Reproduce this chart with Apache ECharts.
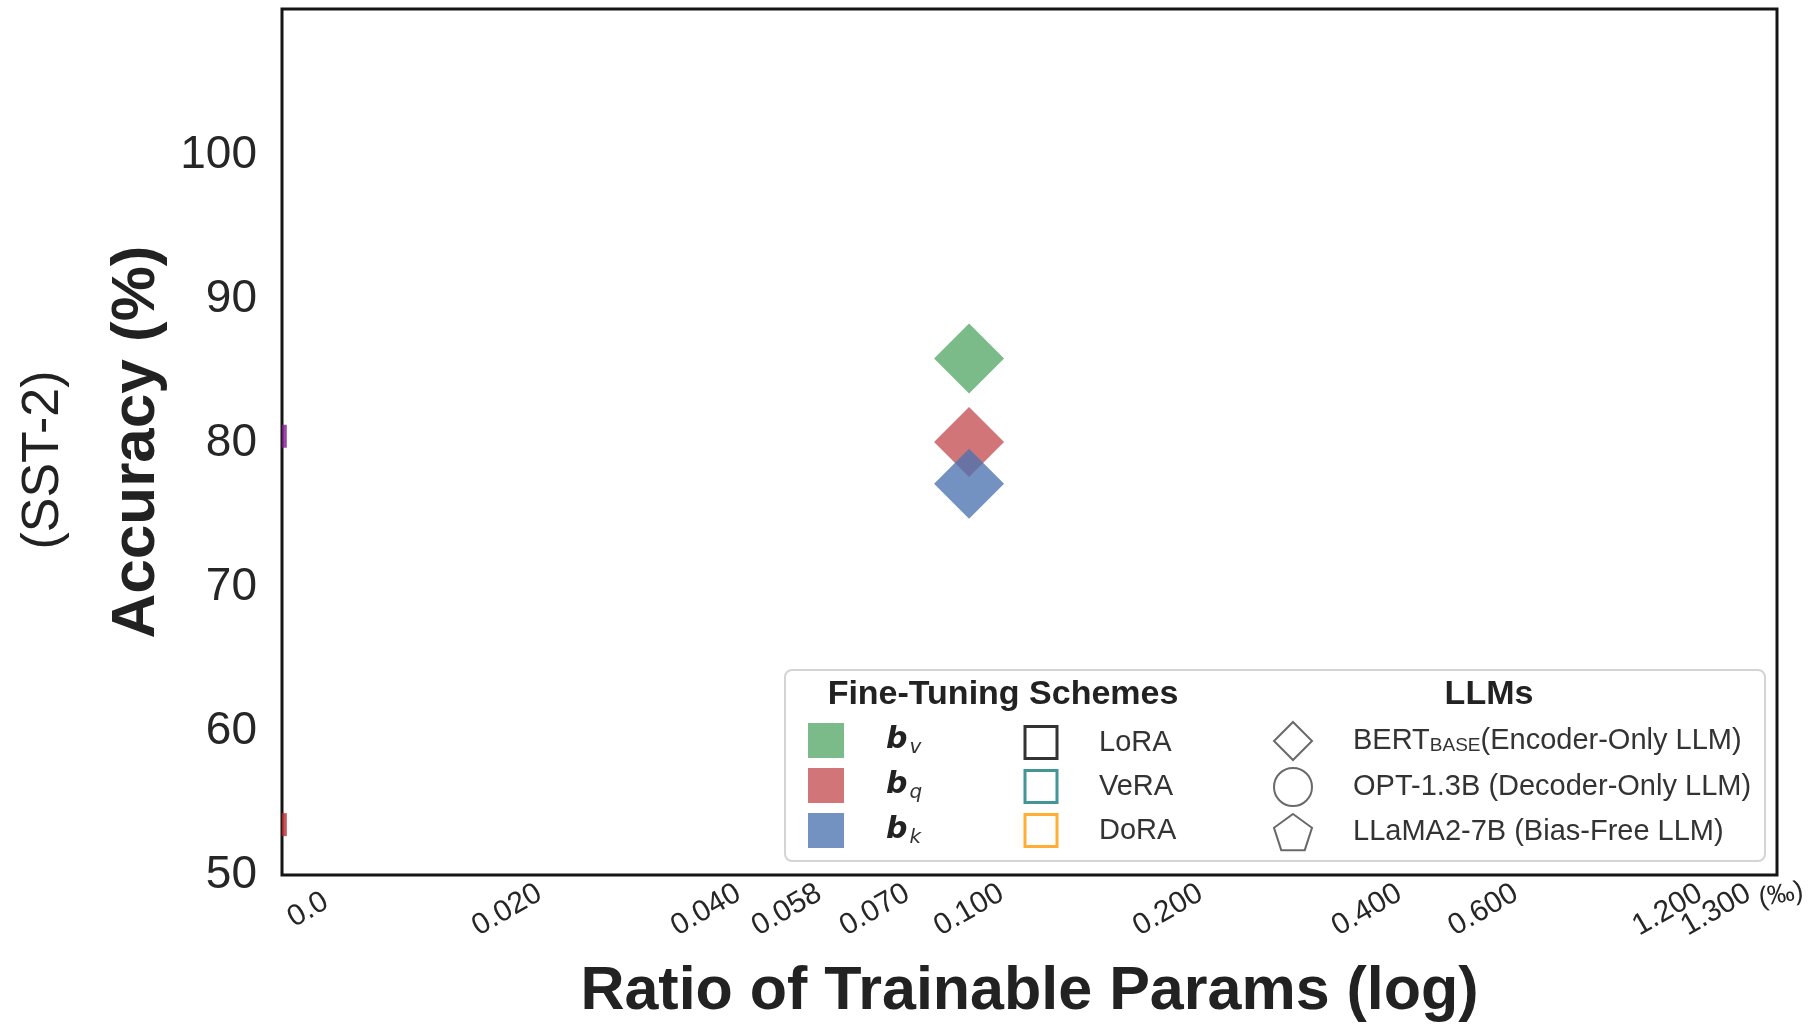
<!DOCTYPE html>
<html>
<head>
<meta charset="utf-8">
<script src="https://cdn.jsdelivr.net/npm/echarts@6/dist/echarts.min.js"></script>
<style>
  html, body { margin: 0; padding: 0; background: #ffffff; }
  #chart { width: 1808px; height: 1024px; }
</style>
</head>
<body>
<div id="chart"></div>
<script>
// Bias-only fine-tuning on SST-2: accuracy vs. ratio of trainable parameters (‰, log scale)

// Fine-tuning schemes (BERT-base points)
const schemeNames = ['b_v', 'b_q', 'b_k'];
const schemeColors = ['#55A868', '#C44E52', '#4C72B0'];
const schemeRatio = [0.1, 0.1, 0.1];
const schemeAccuracy = [85.9, 80.1, 77.2];

// Adapter baselines (legend only)
const methodNames = ['LoRA', 'VeRA', 'DoRA'];
const methodColors = ['#000000', '#137c7a', '#ff9900'];

// Backbone models (legend only)
const modelNames = ['BERT', 'OPT-1.3B', 'LLaMA2-7B'];
const modelSub = ['BASE', '', ''];
const modelNotes = ['(Encoder-Only LLM)', ' (Decoder-Only LLM)', ' (Bias-Free LLM)'];

// X range (‰)
const xMin = 0.00913, xMax = 1.669;

// Points sitting on the left edge of the visible ratio range
const edgeRatio = [xMin, xMin];
const edgeAccuracy = [80.5, 53.5];
const edgeColors = ['#7d1b8c', '#b8292e'];

// X ticks
const xTickValues = [0.01, 0.02, 0.04, 0.053, 0.072, 0.1, 0.2, 0.4, 0.6, 1.14, 1.35];
const xTickLabels = ['0.0', '0.020', '0.040', '0.058', '0.070', '0.100', '0.200', '0.400', '0.600', '1.200', '1.300'];

// Y ticks
const yMin = 50, yMax = 110.2, yStep = 10, yLabelMax = 100;

const FONT = "'Liberation Sans', Arial, Helvetica, sans-serif";
const schemeOpacity = 0.78;
const pentagon = 'path://M0,-1L0.951,-0.309L0.588,0.809L-0.588,0.809L-0.951,-0.309Z';
const modelIcons = ['diamond', 'circle', pentagon];

// Label text for a tick value; the trailing blank slot at xMax keeps the last real label visible
function tickText(v) {
  for (let i = 0; i < xTickValues.length; i++) {
    if (Math.abs(Math.log10(v) - Math.log10(xTickValues[i])) < 1e-4) return xTickLabels[i];
  }
  return '';
}

const series = [];
schemeNames.forEach((n, i) => {
  series.push({
    type: 'scatter', name: n,
    data: [[schemeRatio[i], schemeAccuracy[i]]],
    symbol: 'diamond', symbolSize: 70,
    itemStyle: { color: schemeColors[i], opacity: schemeOpacity },
    emphasis: { disabled: true }
  });
});
methodNames.forEach((n, i) => {
  series.push({
    type: 'scatter', name: n, data: [], symbol: 'rect',
    itemStyle: { color: 'rgba(0,0,0,0)', borderColor: methodColors[i], borderWidth: 3 }
  });
});
modelNames.forEach((n, i) => {
  series.push({
    type: 'scatter', name: n, data: [], symbol: modelIcons[i],
    itemStyle: { color: 'rgba(255,255,255,0)', borderColor: '#444', borderWidth: 2 }
  });
});
series.push({
  type: 'scatter', name: 'edge', z: 5,
  symbol: 'rect', symbolSize: [5, 23], symbolOffset: [2.3, 0],
  data: edgeRatio.map((x, i) => ({ value: [x, edgeAccuracy[i]], itemStyle: { color: edgeColors[i] } })),
  emphasis: { disabled: true }
});

const option = {
  backgroundColor: '#ffffff',
  animation: false,
  textStyle: { fontFamily: FONT },
  grid: {
    left: 282, top: 9, right: 31, bottom: 149,
    outerBoundsMode: 'none', containLabel: false,
    show: true, borderColor: '#151515', borderWidth: 3, backgroundColor: '#ffffff'
  },
  xAxis: {
    type: 'log', min: xMin, max: xMax,
    name: 'Ratio of Trainable Params (log)', nameLocation: 'middle', nameGap: 117,
    nameMoveOverlap: false,
    nameTextStyle: { fontSize: 61, fontWeight: 'bold', color: '#222', fontFamily: FONT,
                     align: 'center', verticalAlign: 'middle' },
    axisLine: { show: false }, axisTick: { show: false }, splitLine: { show: false },
    axisLabel: {
      customValues: xTickValues.concat([xMax]),
      formatter: v => tickText(v),
      showMinLabel: true, hideOverlap: false,
      rotate: 30, align: 'center', verticalAlign: 'middle', margin: 35,
      fontSize: 30, color: '#262626', fontFamily: FONT
    }
  },
  yAxis: {
    type: 'value', min: yMin, max: yMax, interval: yStep,
    name: 'Accuracy (%)', nameLocation: 'middle', nameGap: 114, nameRotate: 90,
    nameTextStyle: { fontSize: 62, fontWeight: 'bold', color: '#222', fontFamily: FONT },
    axisLine: { show: false }, axisTick: { show: false }, splitLine: { show: false },
    axisLabel: {
      formatter: v => (v <= yLabelMax ? String(v) : ''),
      fontSize: 46, color: '#262626', margin: 25, fontFamily: FONT
    }
  },
  legend: [
    {
      orient: 'vertical', left: 808, top: 723, padding: 0,
      itemWidth: 36, itemHeight: 35, itemGap: 10,
      selectedMode: false, z: 6,
      data: schemeNames.map((n, i) => ({
        name: n, icon: 'rect',
        itemStyle: { color: schemeColors[i], opacity: schemeOpacity, borderWidth: 0 }
      })),
      formatter: n => '{b|b}{s|' + n.split('_')[1] + '}',
      textStyle: {
        padding: [0, 0, 0, 37],
        rich: {
          b: { fontFamily: 'DejaVu Sans', fontWeight: 'bold', fontStyle: 'italic', fontSize: 30, color: '#222' },
          s: { fontFamily: 'DejaVu Sans', fontStyle: 'italic', fontSize: 20, color: '#333', padding: [14, 0, 0, 2] }
        }
      }
    },
    {
      orient: 'vertical', left: 1023.5, top: 725, padding: 0,
      itemWidth: 32, itemHeight: 32, itemGap: 9,
      selectedMode: false, z: 6,
      data: methodNames.map((n, i) => ({
        name: n, icon: 'rect',
        itemStyle: { color: 'rgba(0,0,0,0)', borderColor: methodColors[i], borderWidth: 3 }
      })),
      textStyle: { fontSize: 29, color: '#333', fontFamily: FONT, padding: [0, 0, 0, 37] }
    },
    {
      orient: 'vertical', left: 1273, top: 721, padding: 0,
      itemWidth: 38, itemHeight: 38, itemGap: 6,
      selectedMode: false, z: 6,
      data: modelNames.map((n, i) => ({
        name: n, icon: modelIcons[i],
        itemStyle: { color: '#ffffff', borderColor: '#444', borderWidth: 2 }
      })),
      formatter: n => {
        const i = modelNames.indexOf(n);
        return '{t|' + n + '}' + (modelSub[i] ? '{s|' + modelSub[i] + '}' : '') + '{t|' + modelNotes[i] + '}';
      },
      textStyle: {
        padding: [0, 0, 0, 36],
        rich: {
          t: { fontSize: 29, color: '#333', fontFamily: FONT },
          s: { fontSize: 19, color: '#333', fontFamily: FONT, padding: [10, 0, 0, 0] }
        }
      }
    }
  ],
  graphic: [
    {
      type: 'rect', z: 3,
      shape: { x: 785, y: 670, width: 980, height: 191, r: 7 },
      style: { fill: 'rgba(255,255,255,0.85)', stroke: '#d4d4d4', lineWidth: 2 }
    },
    {
      type: 'text', z: 7, x: 1003, y: 695,
      style: { text: 'Fine-Tuning Schemes', fontSize: 34, fontWeight: 'bold', fontFamily: FONT,
               fill: '#222', align: 'center', verticalAlign: 'middle' }
    },
    {
      type: 'text', z: 7, x: 1489, y: 695,
      style: { text: 'LLMs', fontSize: 34, fontWeight: 'bold', fontFamily: FONT,
               fill: '#222', align: 'center', verticalAlign: 'middle' }
    },
    {
      type: 'text', z: 7, x: 44, y: 460, rotation: Math.PI / 2,
      style: { text: '(SST-2)', fontSize: 52, fontFamily: FONT, fill: '#222',
               align: 'center', verticalAlign: 'middle' }
    },
    {
      type: 'text', z: 7, x: 1781, y: 895, rotation: 10 * Math.PI / 180,
      style: { text: '(‰)', fontSize: 27, fontFamily: FONT, fill: '#262626',
               align: 'center', verticalAlign: 'middle' }
    }
  ],
  series: series
};

const chart = echarts.init(document.getElementById('chart'), null, { renderer: 'canvas' });
chart.setOption(option);
</script>
</body>
</html>
